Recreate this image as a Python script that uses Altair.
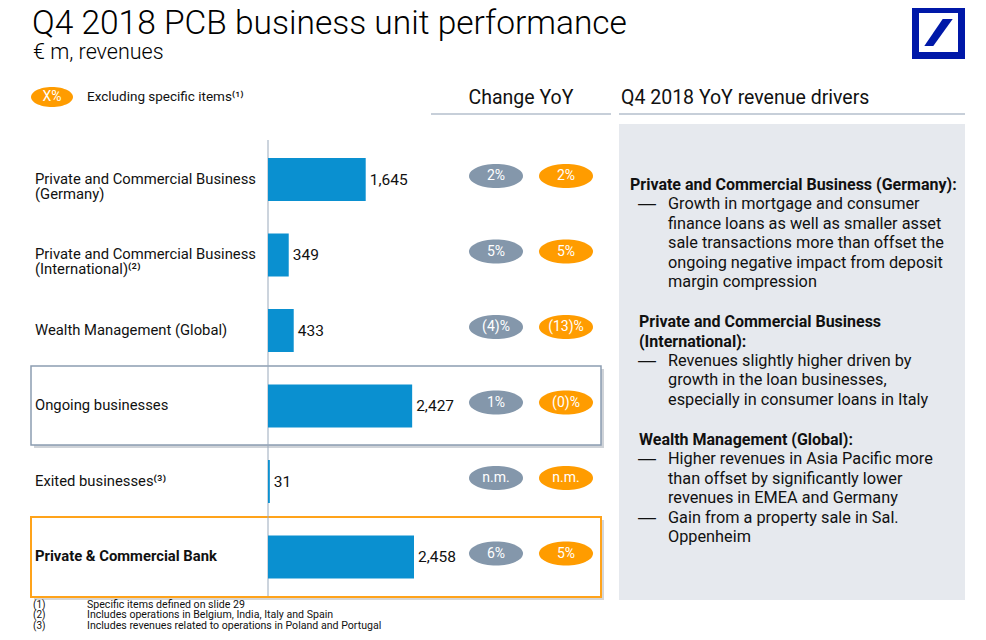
import math
import altair as alt
import pandas as pd

# ---------------- data ----------------
categories = [
    "Private and Commercial Business (Germany)",
    "Private and Commercial Business (International)",
    "Wealth Management (Global)",
    "Ongoing businesses",
    "Exited businesses",
    "Private & Commercial Bank",
]
label_line1 = [
    "Private and Commercial Business",
    "Private and Commercial Business",
    "Wealth Management (Global)",
    "Ongoing businesses",
    "Exited businesses⁽³⁾",
    "Private & Commercial Bank",
]
label_line2 = ["(Germany)", "(International)⁽²⁾", "", "", "", ""]
revenues = [1645, 349, 433, 2427, 31, 2458]
yoy_change = ["2%", "5%", "(4)%", "1%", "n.m.", "6%"]
yoy_excl = ["2%", "5%", "(13)%", "(0)%", "n.m.", "5%"]
is_total = [False, False, False, False, False, True]

title_text = "Q4 2018 PCB business unit performance"
subtitle_text = "€ m, revenues"
legend_pill = "X%"
legend_text = "Excluding specific items⁽¹⁾"
header_change = "Change YoY"
header_drivers = "Q4 2018 YoY revenue drivers"

footnote_ids = ["(1)", "(2)", "(3)"]
footnote_texts = [
    "Specific items defined on slide 29",
    "Includes operations in Belgium, India, Italy and Spain",
    "Includes revenues related to operations in Poland and Portugal",
]

driver_blocks = [
    (["Private and Commercial Business (Germany):"],
     [["Growth in mortgage and consumer",
       "finance loans as well as smaller asset",
       "sale transactions more than offset the",
       "ongoing negative impact from deposit",
       "margin compression"]]),
    (["Private and Commercial Business", "(International):"],
     [["Revenues slightly higher driven by",
       "growth in the loan businesses,",
       "especially in consumer loans in Italy"]]),
    (["Wealth Management (Global):"],
     [["Higher revenues in Asia Pacific more",
       "than offset by significantly lower",
       "revenues in EMEA and Germany"],
      ["Gain from a property sale in Sal.",
       "Oppenheim"]]),
]

# ---------------- layout ----------------
W, H = 970, 624
X0, Y0 = 8, 8
PX = alt.Scale(domain=[X0, X0 + W], range=[0, W], zero=False, nice=False)
PY = alt.Scale(domain=[Y0, Y0 + H], range=[0, H], zero=False, nice=False)

FONT = "Roboto"
TXT = "#111111"
BLUE = "#0a90d0"
GREY_PILL = "#8497ab"
ORANGE = "#ff9c00"
LINE = "#9aa9bb"

ROW0, STEP = 179.5, 75.5
band_start = ROW0 - STEP / 2 - Y0
XB = alt.Scale(domain=[0, 2458], range=[260, 406], zero=True, nice=False)
YB = alt.Scale(domain=categories, range=[band_start, band_start + 6 * STEP],
               paddingInner=0.43, paddingOuter=0.215)


def ellipse_shape(ry, n=60):
    pts = []
    for i in range(n):
        t = 2 * math.pi * i / n
        pts.append(f"{math.cos(t):.4f} {ry * math.sin(t):.4f}")
    return "M " + " L ".join(pts) + " Z"


PILL = ellipse_shape(24 / 54)
PILL_SMALL = ellipse_shape(20 / 42)

df = pd.DataFrame({
    "category": categories,
    "revenue": revenues,
    "yoy": yoy_change,
    "yoy_excl": yoy_excl,
    "line1": label_line1,
    "line2": label_line2,
    "total": is_total,
})


def px_text(rows, **kw):
    d = pd.DataFrame(rows, columns=["t", "x", "y"])
    base = dict(font=FONT, color=TXT, align="left", baseline="middle")
    base.update(kw)
    return alt.Chart(d).mark_text(**base).encode(
        x=alt.X("x:Q", scale=PX, axis=None),
        y=alt.Y("y:Q", scale=PY, axis=None),
        text="t:N",
    )


def px_rect(x1, y1, x2, y2, **kw):
    d = pd.DataFrame({"x": [x1], "x2": [x2], "y": [y1], "y2": [y2]})
    return alt.Chart(d).mark_rect(**kw).encode(
        x=alt.X("x:Q", scale=PX, axis=None), x2="x2:Q",
        y=alt.Y("y:Q", scale=PY, axis=None), y2="y2:Q",
    )


def px_rule(x1, y1, x2, y2, **kw):
    d = pd.DataFrame({"x": [x1], "x2": [x2], "y": [y1], "y2": [y2]})
    return alt.Chart(d).mark_rule(**kw).encode(
        x=alt.X("x:Q", scale=PX, axis=None), x2="x2:Q",
        y=alt.Y("y:Q", scale=PY, axis=None), y2="y2:Q",
    )


def px_point(x, y, shape, size, color):
    d = pd.DataFrame({"x": [x], "y": [y]})
    return alt.Chart(d).mark_point(shape=shape, size=size, filled=True,
                                   color=color, opacity=1, strokeWidth=0).encode(
        x=alt.X("x:Q", scale=PX, axis=None),
        y=alt.Y("y:Q", scale=PY, axis=None),
    )


layers = []

# right grey panel
layers.append(px_rect(619, 124, 965, 600, color="#e6e9ee"))

# boxes with shadows
layers.append(px_rect(34, 369, 604, 448, color="#cfd3d8"))
layers.append(px_rect(31, 366, 601, 445, fill="white", stroke="#8c9db1", strokeWidth=1.5))
layers.append(px_rect(34, 520, 604, 600, color="#d6d6d6"))
layers.append(px_rect(31, 517, 601, 597, fill="white", stroke="#ffa31a", strokeWidth=2))

# vertical baseline
layers.append(px_rule(268, 140, 268, 596, color=LINE, strokeWidth=1))

# header underlines
layers.append(px_rule(431, 114, 611, 114, color="#b4bfcc", strokeWidth=1.5))
layers.append(px_rule(619, 114, 965, 114, color="#b4bfcc", strokeWidth=1.5))

# bars
base = alt.Chart(df)
layers.append(base.mark_bar(color=BLUE).encode(
    x=alt.X("revenue:Q", scale=XB, axis=None),
    y=alt.Y("category:N", scale=YB, axis=None, sort=None),
))
layers.append(base.mark_text(font=FONT, fontSize=15.5, color=TXT, align="left",
                             baseline="middle", dx=4).encode(
    x=alt.X("revenue:Q", scale=XB, axis=None),
    y=alt.Y("category:N", scale=YB, axis=None, sort=None),
    text=alt.Text("revenue:Q", format=","),
))

# category labels
lab_x = alt.value(35 - X0)
LAB = 14.8
layers.append(base.transform_filter("!datum.total").mark_text(
    font=FONT, fontSize=LAB, color=TXT, align="left", baseline="middle").encode(
    x=lab_x, y=alt.Y("category:N", scale=YB, axis=None, sort=None), text="line1:N"))
layers.append(base.transform_filter("!datum.total").mark_text(
    font=FONT, fontSize=LAB, color=TXT, align="left", baseline="middle", dy=15).encode(
    x=lab_x, y=alt.Y("category:N", scale=YB, axis=None, sort=None), text="line2:N"))
layers.append(base.transform_filter("datum.total").mark_text(
    font=FONT, fontSize=LAB, fontWeight="bold", color=TXT, align="left",
    baseline="middle").encode(
    x=lab_x, y=alt.Y("category:N", scale=YB, axis=None, sort=None), text="line1:N"))

# YoY pills
for col, cx, colr in [("yoy", 496, GREY_PILL), ("yoy_excl", 566, ORANGE)]:
    layers.append(base.mark_point(shape=PILL, size=54 * 54, filled=True, color=colr,
                                  opacity=1, strokeWidth=0, yOffset=-3.5).encode(
        x=alt.value(cx - X0), y=alt.Y("category:N", scale=YB, axis=None, sort=None)))
    layers.append(base.mark_text(font=FONT, fontSize=14, color="white", align="center",
                                 baseline="middle", yOffset=-3.5).encode(
        x=alt.value(cx - X0), y=alt.Y("category:N", scale=YB, axis=None, sort=None),
        text=f"{col}:N"))

# titles
layers.append(px_text([[title_text, 32, 34]], fontSize=33.5, fontWeight=300,
                      baseline="alphabetic", color="#000000"))
layers.append(px_text([[subtitle_text, 33, 59]], fontSize=21.5, fontWeight=300,
                      baseline="alphabetic", color="#000000"))

# legend
layers.append(px_point(52, 97, PILL_SMALL, 42 * 42, ORANGE))
layers.append(px_text([[legend_pill, 52, 97]], fontSize=14, color="white", align="center"))
layers.append(px_text([[legend_text, 87, 97]], fontSize=13.5))

# column headers
layers.append(px_text([[header_change, 521, 98]], fontSize=19.5, align="center"))
layers.append(px_text([[header_drivers, 621, 98]], fontSize=19.5))

# driver text
head_rows, dash_rows, body_rows = [], [], []
y = 185
for bi, (heads, bullets) in enumerate(driver_blocks):
    hx = 630 if bi == 0 else 639
    for h in heads:
        head_rows.append([h, hx, y])
        y += 19.3
    for bullet in bullets:
        dash_rows.append(["—", 638, y])
        for line in bullet:
            body_rows.append([line, 668, y])
            y += 19.5
    y += 20.5
layers.append(px_text(head_rows, fontSize=16, fontWeight="bold"))
layers.append(px_text(dash_rows, fontSize=18, font="Liberation Sans"))
layers.append(px_text(body_rows, fontSize=16.3))

# footnotes
fy = [604.5, 615, 625.5]
layers.append(px_text([[t, 33, yy] for t, yy in zip(footnote_ids, fy)], fontSize=10))
layers.append(px_text([[t, 87, yy] for t, yy in zip(footnote_texts, fy)], fontSize=10.6))

# logo
LOGO_BLUE = "#0018a8"
layers.append(px_rect(915.5, 9.5, 961.5, 55.5, fill="white", stroke=LOGO_BLUE, strokeWidth=7))
SLASH = "M 0.21 -0.675 L 0.71 -0.675 L -0.26 0.675 L -0.71 0.675 Z"
layers.append(px_point(938.5, 32.5, SLASH, 1600, LOGO_BLUE))

chart = alt.layer(*layers).resolve_scale(x="independent", y="independent").properties(
    width=W, height=H, autosize=alt.AutoSizeParams(type="none"), padding=0,
).configure_view(stroke=None)

chart.save("out.html", embed_options={"renderer": "svg", "actions": False})
